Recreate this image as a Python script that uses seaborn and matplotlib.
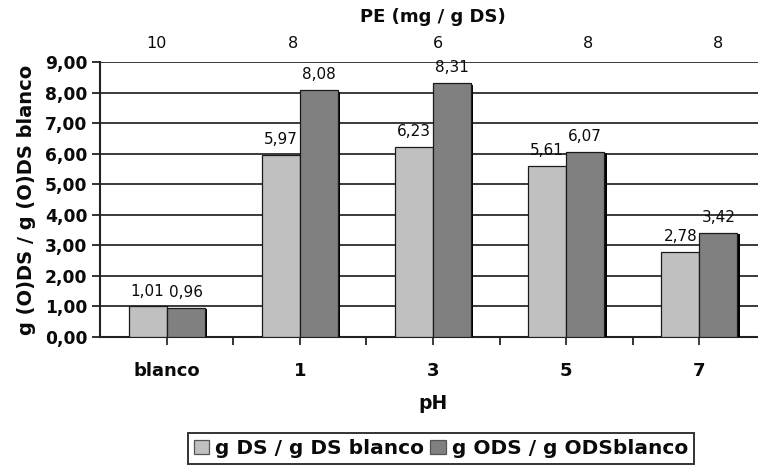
import matplotlib
matplotlib.use("Agg")
import matplotlib.pyplot as plt
import matplotlib.patheffects as pe
from matplotlib.ticker import FuncFormatter, FixedLocator
import seaborn as sns
import pandas as pd

# Data
categories = ["blanco", "1", "3", "5", "7"]
series_names = ["g DS / g DS blanco", "g ODS / g ODSblanco"]
ds_values = [1.01, 5.97, 6.23, 5.61, 2.78]
ods_values = [0.96, 8.08, 8.31, 6.07, 3.42]
pe_labels = ["10", "8", "6", "8", "8"]
pe_positions = [-0.08, 0.95, 2.04, 3.16, 4.14]
y_ticks = [0, 1, 2, 3, 4, 5, 6, 7, 8, 9]

df = pd.DataFrame({
    "pH": categories * 2,
    "serie": [series_names[0]] * len(categories) + [series_names[1]] * len(categories),
    "value": ds_values + ods_values,
})

sns.set_theme(style="white")
plt.rcParams["font.family"] = ["DejaVu Sans"]

INK = "#0a0a0a"

fig = plt.figure(figsize=(7.58, 4.66), dpi=100)
ax = fig.add_axes([100 / 758, 1 - 337 / 466, 666 / 758, 275 / 466])

palette = {series_names[0]: "#c0c0c0", series_names[1]: "#808080"}
sns.barplot(data=df, x="pH", y="value", hue="serie", order=categories,
            hue_order=series_names, palette=palette, width=0.57, gap=0,
            edgecolor="#1a1a1a", linewidth=0.9, saturation=1, ax=ax, zorder=3)

# drop shadow on the darker bars
for bar in ax.containers[1]:
    bar.set_path_effects([pe.SimplePatchShadow(offset=(1.8, -1.2), shadow_rgbFace="black", alpha=1),
                          pe.Normal()])

def comma(v):
    return f"{v:.2f}".replace(".", ",")

for cont, vals in zip(ax.containers, [ds_values, ods_values]):
    ax.bar_label(cont, labels=[comma(v) for v in vals], padding=5.5, fontsize=11, color=INK)

ax.set_ylim(0, 9)
ax.set_xlim(-0.5, len(categories) - 0.5)
ax.yaxis.set_major_locator(FixedLocator(y_ticks))
ax.yaxis.set_major_formatter(FuncFormatter(lambda v, p: comma(v)))
ax.grid(axis="y", color="#3a3a3a", linewidth=1.4, zorder=0)
ax.set_axisbelow(True)

for s in ["top", "right"]:
    ax.spines[s].set_visible(False)
for s in ["left", "bottom"]:
    ax.spines[s].set_color("#222222")
    ax.spines[s].set_linewidth(1.5)

ax.tick_params(axis="y", left=True, length=6, width=1.3, color="#222222", labelsize=12.3, pad=3)
ax.tick_params(axis="x", bottom=False, labelsize=13, pad=12)
for lab in ax.get_yticklabels() + ax.get_xticklabels():
    lab.set_fontweight("bold")
    lab.set_color(INK)

# category separator ticks on the x axis
ax.set_xticks([i + 0.5 for i in range(len(categories) - 1)], minor=True)
ax.tick_params(axis="x", which="minor", bottom=True, length=6, width=1.3, color="#222222")

ax.set_xlabel("pH", fontsize=13.5, fontweight="bold", labelpad=10, color=INK)
ax.set_ylabel("g (O)DS / g (O)DS blanco", fontsize=14, fontweight="bold", color=INK)
ax.yaxis.set_label_coords(-64 / 666, 0.5)

# secondary axis for PE dose
top = ax.twiny()
top.set_xlim(ax.get_xlim())
top.set_xticks(pe_positions)
top.set_xticklabels(pe_labels, fontsize=11.5, color=INK)
top.tick_params(axis="x", top=False, length=0, pad=8)
for s in top.spines.values():
    s.set_visible(False)
top.set_xlabel("PE (mg / g DS)", fontsize=13, fontweight="bold", color=INK)
top.xaxis.set_label_coords(0.5, 1.145)

ax.legend_.remove()
handles, labels = ax.get_legend_handles_labels()
for h in handles:
    h.set_edgecolor("#555555")
    h.set_path_effects([])
leg = fig.legend(handles, labels, loc="upper center", bbox_to_anchor=(441 / 758, 1 - 433 / 466),
                 ncol=2, frameon=True, fancybox=False, edgecolor="black", labelcolor=INK,
                 handlelength=0.75, handleheight=0.75, handletextpad=0.3, columnspacing=0.3,
                 borderpad=0.3, borderaxespad=0,
                 prop={"weight": "bold", "size": 14.5})
leg.get_frame().set_linewidth(1.4)

fig.savefig("out.png", dpi=100)
